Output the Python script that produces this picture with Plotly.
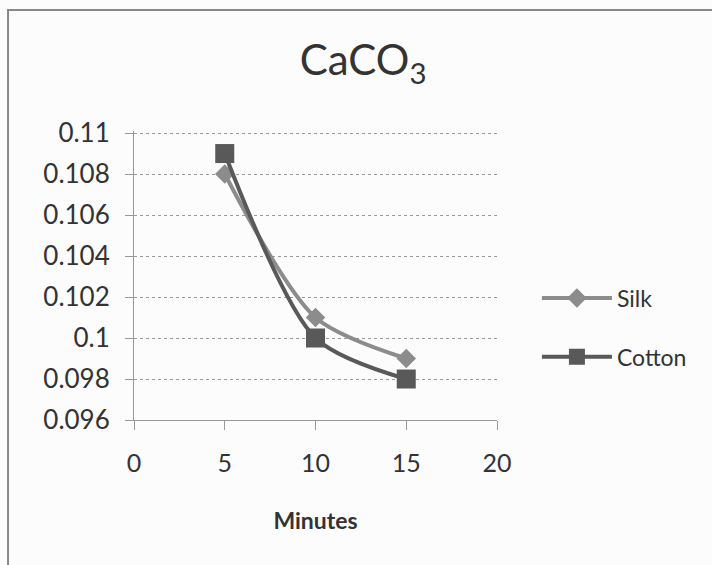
import plotly.graph_objects as go

minutes = [5, 10, 15]
silk = [0.108, 0.101, 0.099]
cotton = [0.109, 0.100, 0.098]
series_names = ["Silk", "Cotton"]
x_ticks = [0, 5, 10, 15, 20]
y_ticks = [0.096, 0.098, 0.1, 0.102, 0.104, 0.106, 0.108, 0.11]
y_labels = ["0.096", "0.098", "0.1", "0.102", "0.104", "0.106", "0.108", "0.11"]

FONT = "Lato, Open Sans, sans-serif"
fig = go.Figure()
fig.add_trace(go.Scatter(x=minutes, y=silk, name=series_names[0], mode="lines+markers",
                         legendgroup="g1",
                         line=dict(color="#8c8c8c", width=4, shape="spline", smoothing=0.8),
                         marker=dict(symbol="diamond", size=15, color="#8c8c8c")))
fig.add_trace(go.Scatter(x=minutes, y=cotton, name=series_names[1], mode="lines+markers",
                         legendgroup="g2",
                         line=dict(color="#595959", width=4, shape="spline", smoothing=0.8),
                         marker=dict(symbol="square", size=19, color="#595959")))

fig.update_layout(
    width=712, height=565,
    margin=dict(l=134, r=215, t=131, b=145),
    paper_bgcolor="#fcfcfc", plot_bgcolor="#fcfcfc",
    font=dict(family=FONT, color="#333333", size=24),
    title=dict(text="CaCO<sub>3</sub>", x=0.51, xanchor="center", y=0.893, yanchor="middle",
               font=dict(size=42, color="#333333", family=FONT)),
    showlegend=True,
    legend=dict(x=1.11, y=0.32, xanchor="left", yanchor="middle", itemwidth=70,
                font=dict(size=23, color="#333333"), tracegroupgap=26,
                bgcolor="rgba(0,0,0,0)"),
    xaxis=dict(range=[0, 20], tickvals=x_ticks, showgrid=False, showline=True,
               linecolor="#999999", linewidth=1, ticks="outside", ticklen=9,
               tickcolor="#999999", zeroline=False, tickfont=dict(size=25),
               ticklabelstandoff=12,
               title=dict(text="<b>Minutes</b>", font=dict(size=23), standoff=36)),
    yaxis=dict(range=[0.096, 0.1101], tickvals=y_ticks, ticktext=y_labels,
               showgrid=True, gridcolor="#999999", griddash="dot", gridwidth=1,
               showline=True, linecolor="#999999", linewidth=1, ticks="outside",
               ticklen=8, tickcolor="#999999", zeroline=False, tickfont=dict(size=26),
               ticklabelstandoff=10),
)
fig.add_shape(type="rect", xref="paper", yref="paper",
              x0=-0.347, x1=1.62, y0=-0.55, y1=1.419,
              line=dict(color="#888888", width=2), layer="below")
fig.write_html("out.html")
